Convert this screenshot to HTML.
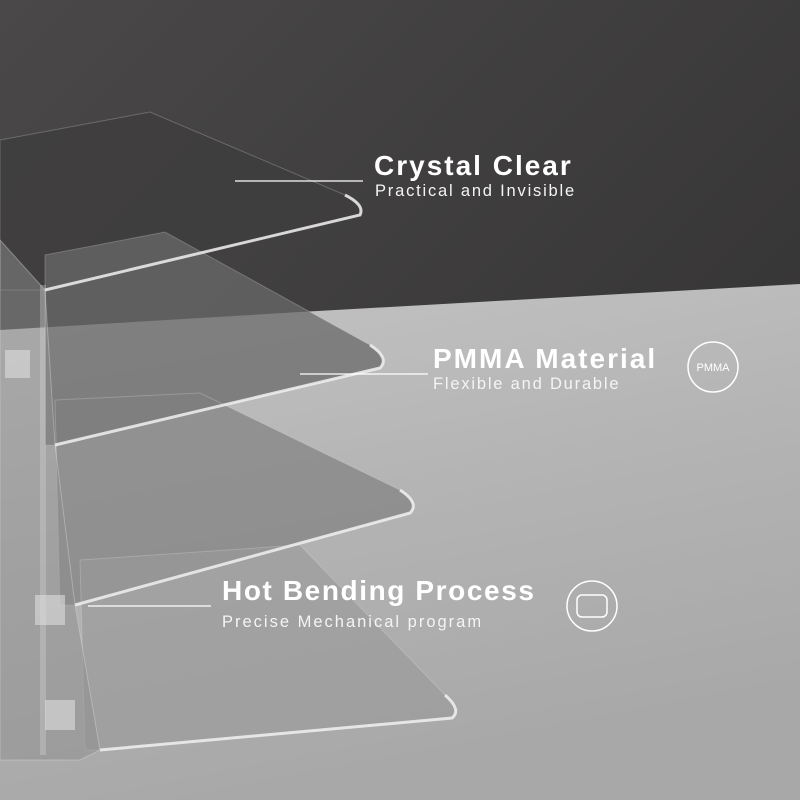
<!DOCTYPE html>
<html><head><style>
html,body{margin:0;padding:0}
body{width:800px;height:800px;overflow:hidden;position:relative;font-family:"Liberation Sans",sans-serif}
.t{position:absolute;color:#fff;white-space:nowrap}
.h{font-weight:bold;font-size:28px;letter-spacing:2px}
.s{font-size:16.5px;color:#f4f4f4;letter-spacing:1.8px}
</style></head><body>
<svg width="800" height="800" style="position:absolute;left:0;top:0">
<defs>
<linearGradient id="wall" x1="0" y1="0" x2="1" y2="1">
<stop offset="0" stop-color="#4a4848"/><stop offset="1" stop-color="#2f2e2e"/></linearGradient>
<linearGradient id="floor" x1="0" y1="0" x2="0.3" y2="1">
<stop offset="0" stop-color="#c4c4c4"/><stop offset="0.5" stop-color="#b4b4b4"/><stop offset="1" stop-color="#a8a8a8"/></linearGradient>
</defs>
<rect width="800" height="800" fill="url(#wall)"/>
<polygon points="0,330 300,312 800,284 800,800 0,800" fill="url(#floor)"/>
<!-- shelves -->
<g stroke="#e8e8e8" stroke-width="1" stroke-opacity="0.25">
<path d="M0,140 L150,112 L345,195 Q365,205 360,215 L45,290 L0,290 Z" fill="#3e3d3d" fill-opacity="0.8"/>
<path d="M45,255 L165,232 L370,345 Q390,358 380,368 L55,445 L45,445 Z" fill="#6a6a6a" fill-opacity="0.75"/>
<path d="M55,400 L200,393 L400,490 Q420,503 410,513 L75,605 L60,605 Z" fill="#808080" fill-opacity="0.7"/>
<path d="M80,560 L300,545 L445,695 Q462,710 452,718 L100,750 L85,750 Z" fill="#9a9a9a" fill-opacity="0.65"/>
</g>
<g stroke="#f0f0f0" stroke-width="3" fill="none" stroke-opacity="0.85">
<path d="M345,195 Q365,205 360,215 L45,290"/>
<path d="M370,345 Q390,358 380,368 L55,445"/>
<path d="M400,490 Q420,503 410,513 L75,605"/>
<path d="M445,695 Q462,710 452,718 L100,750"/>
</g>
<!-- vertical panels -->
<polygon points="0,240 45,290 55,445 75,605 100,750 80,760 0,760" fill="#8e8e8e" fill-opacity="0.5" stroke="#ddd" stroke-opacity="0.4"/>
<rect x="40" y="285" width="6" height="470" fill="#ddd" fill-opacity="0.3"/>
<g fill="#ddd" fill-opacity="0.6"><rect x="5" y="350" width="25" height="28"/><rect x="35" y="595" width="30" height="30"/><rect x="45" y="700" width="30" height="30"/></g>
<!-- lines -->
<g stroke="#fff" stroke-width="1.3">
<line x1="235" y1="181" x2="363" y2="181"/>
<line x1="300" y1="374" x2="428" y2="374"/>
<line x1="88" y1="606" x2="211" y2="606"/>
</g>
<circle cx="713" cy="367" r="25" fill="none" stroke="#fff" stroke-width="1.5"/>
<text x="713" y="371" text-anchor="middle" fill="#fff" font-size="11" font-family="Liberation Sans">PMMA</text>
<circle cx="592" cy="606" r="25" fill="none" stroke="#fff" stroke-width="1.5"/>
<rect x="577" y="595" width="30" height="22" rx="5" fill="none" stroke="#fff" stroke-width="1.5"/>
</svg>
<div class="t h" style="left:374px;top:150px">Crystal Clear</div>
<div class="t s" style="left:375px;top:182px">Practical and Invisible</div>
<div class="t h" style="left:433px;top:343px">PMMA Material</div>
<div class="t s" style="left:433px;top:375px">Flexible and Durable</div>
<div class="t h" style="left:222px;top:575px;letter-spacing:1.6px">Hot Bending Process</div>
<div class="t s" style="left:222px;top:613px;letter-spacing:2px">Precise Mechanical program</div>
</body></html>
